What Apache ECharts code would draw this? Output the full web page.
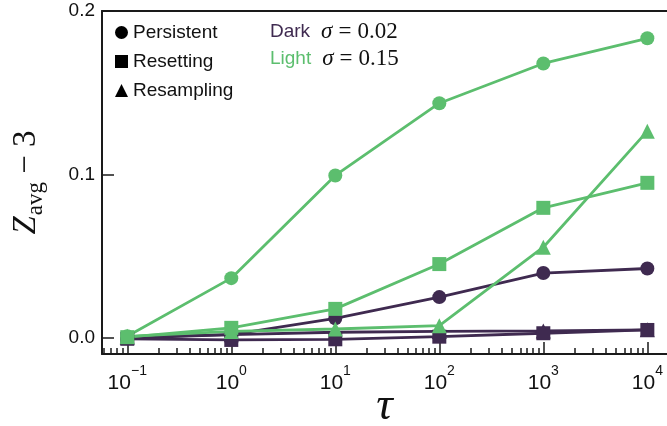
<!DOCTYPE html>
<html><head><meta charset="utf-8">
<script src="https://cdn.jsdelivr.net/npm/echarts@6/dist/echarts.min.js"></script>
<style>html,body{margin:0;padding:0;background:#fff}#c{width:667px;height:426px}</style>
</head><body><div id="c"></div>
<script>
// ---- data ----
const tau = [0.1, 1, 10, 100, 1000, 10000];
const darkPersistent  = [0.0, 0.002, 0.012, 0.025, 0.0397, 0.0425];
const darkResampling  = [0.0005, 0.002, 0.0035, 0.004, 0.0043, 0.005];
const darkResetting   = [-0.0005, -0.0012, -0.0008, 0.0008, 0.0029, 0.0049];
const lightPersistent = [0.001, 0.0366, 0.0994, 0.1436, 0.1679, 0.1833];
const lightResampling = [0.001, 0.004, 0.0055, 0.0075, 0.0555, 0.1265];
const lightResetting  = [0.0005, 0.0062, 0.0178, 0.0452, 0.0796, 0.0949];
const xMajorTicks = [0.1, 1, 10, 100, 1000, 10000];
const xMinorTicks = [0.06, 0.07, 0.08, 0.09,
  0.2, 0.3, 0.4, 0.5, 0.6, 0.7, 0.8, 0.9,
  2, 3, 4, 5, 6, 7, 8, 9,
  20, 30, 40, 50, 60, 70, 80, 90,
  200, 300, 400, 500, 600, 700, 800, 900,
  2000, 3000, 4000, 5000, 6000, 7000, 8000, 9000];
const yTicks = [0, 0.1, 0.2];
const shapeNames = ['Persistent', 'Resetting', 'Resampling'];

const DARK = '#3f2a50';
const LIGHT = '#5cbe6e';
const AX = '#1a1a1a';
const X_MIN = Math.pow(10, -1.243);
const X_MAX = Math.pow(10, 4.189);

function pts(arr) { return tau.map((t, i) => [t, arr[i]]); }
function ser(name, arr, color, symbol, size) {
  return {
    name: name, type: 'line', xAxisIndex: 0, yAxisIndex: 0,
    data: pts(arr), symbol: symbol, symbolSize: size,
    lineStyle: { color: color, width: 2.8 },
    itemStyle: { color: color },
    emphasis: { disabled: true }
  };
}
function dummy(name, symbol) {
  return { name: name, type: 'line', data: [], symbol: symbol, itemStyle: { color: '#000' }, lineStyle: { color: '#000' } };
}
function mathRich(col) {
  return {
    d: { fontFamily: 'Liberation Sans', fontSize: 19, fill: col, lineHeight: 24 },
    m: { fontFamily: 'Liberation Serif', fontStyle: 'italic', fontSize: 23, fill: '#111', lineHeight: 24, padding: [0, 0, 0, 11] },
    e: { fontFamily: 'Liberation Serif', fontSize: 23, fill: '#111', lineHeight: 24, padding: [0, 6, 0, 6] },
    r: { fontFamily: 'Liberation Serif', fontSize: 23, fill: '#111', lineHeight: 24 }
  };
}

const chart = echarts.init(document.getElementById('c'), null, { renderer: 'canvas' });
chart.setOption({
  animation: false,
  backgroundColor: '#fff',
  grid: { left: 102, top: 11, right: 0, bottom: 72, outerBoundsMode: 'none', containLabel: false },
  legend: {
    left: 115, top: 23, padding: 0, orient: 'vertical',
    itemWidth: 13, itemHeight: 13, itemGap: 10, selectedMode: false,
    textStyle: { fontFamily: 'Liberation Sans', fontSize: 19, color: '#111', lineHeight: 18 },
    data: [
      { name: shapeNames[0], icon: 'circle' },
      { name: shapeNames[1], icon: 'rect' },
      { name: shapeNames[2], icon: 'triangle' }
    ]
  },
  graphic: [
    { type: 'text', left: 270, top: 20, style: { text: '{d|Dark}{m|σ}{e|=}{r|0.02}', rich: mathRich(DARK) } },
    { type: 'text', left: 270, top: 47, style: { text: '{d|Light}{m|σ}{e|=}{r|0.15}', rich: mathRich(LIGHT) } }
  ],
  xAxis: [
    {
      type: 'log', position: 'bottom', min: X_MIN, max: X_MAX,
      name: 'τ', nameLocation: 'middle', nameGap: 30, nameMoveOverlap: false,
      nameTextStyle: { fontFamily: 'Liberation Serif', fontStyle: 'italic', fontSize: 46, color: '#111', lineHeight: 46 },
      axisLine: { show: true, onZero: false, lineStyle: { color: AX, width: 2 } },
      axisTick: { show: true, inside: true, length: 12, customValues: xMajorTicks, lineStyle: { color: AX, width: 1.5 } },
      axisLabel: {
        show: true, customValues: xMajorTicks, margin: 10,
        fontFamily: 'Liberation Sans', fontSize: 21, color: '#111',
        formatter: function (v) {
          const e = Math.round(Math.log10(v));
          return '{b|10}{s|' + (e < 0 ? '−' + (-e) : e) + '}';
        },
        rich: {
          b: { fontFamily: 'Liberation Sans', fontSize: 21, lineHeight: 30, verticalAlign: 'bottom', color: '#111' },
          s: { fontFamily: 'Liberation Sans', fontSize: 14, lineHeight: 16, verticalAlign: 'top', color: '#111' }
        }
      },
      splitLine: { show: false }, minorTick: { show: false }
    },
    {
      type: 'log', position: 'top', min: X_MIN, max: X_MAX,
      axisLine: { show: true, onZero: false, lineStyle: { color: AX, width: 2 } },
      axisTick: { show: false }, axisLabel: { show: false }, splitLine: { show: false }
    },
    {
      type: 'log', position: 'bottom', min: X_MIN, max: X_MAX,
      axisLine: { show: false, onZero: false },
      axisTick: { show: true, inside: true, length: 6, customValues: xMinorTicks, lineStyle: { color: AX, width: 1.5 } },
      axisLabel: { show: false }, splitLine: { show: false }
    }
  ],
  yAxis: [{
    type: 'value', min: -0.0098, max: 0.2,
    name: '{z|Z}{s|avg}{m| − 3}', nameLocation: 'middle', nameRotate: 90, nameGap: 58, nameMoveOverlap: false,
    nameTextStyle: {
      rich: {
        z: { fontFamily: 'Liberation Serif', fontStyle: 'italic', fontSize: 33, color: '#111', lineHeight: 34, verticalAlign: 'top' },
        s: { fontFamily: 'Liberation Serif', fontSize: 23, color: '#111', lineHeight: 24, padding: [14, 0, 0, 1], verticalAlign: 'top' },
        m: { fontFamily: 'Liberation Serif', fontSize: 33, color: '#111', lineHeight: 34, verticalAlign: 'top' }
      }
    },
    axisLine: { show: true, onZero: false, lineStyle: { color: AX, width: 2 } },
    axisTick: { show: true, inside: true, length: 12, customValues: yTicks, lineStyle: { color: AX, width: 1.5 } },
    axisLabel: {
      show: true, customValues: yTicks, margin: 7,
      fontFamily: 'Liberation Sans', fontSize: 19, color: '#111',
      formatter: function (v) { return v.toFixed(1); }
    },
    splitLine: { show: false }
  }],
  series: [
    ser('Dark Persistent', darkPersistent, DARK, 'circle', 14),
    ser('Dark Resampling', darkResampling, DARK, 'triangle', 15),
    ser('Dark Resetting', darkResetting, DARK, 'rect', 14),
    ser('Light Persistent', lightPersistent, LIGHT, 'circle', 14),
    ser('Light Resampling', lightResampling, LIGHT, 'triangle', 15),
    ser('Light Resetting', lightResetting, LIGHT, 'rect', 14),
    dummy(shapeNames[0], 'circle'),
    dummy(shapeNames[1], 'rect'),
    dummy(shapeNames[2], 'triangle')
  ]
});
</script>
</body></html>
